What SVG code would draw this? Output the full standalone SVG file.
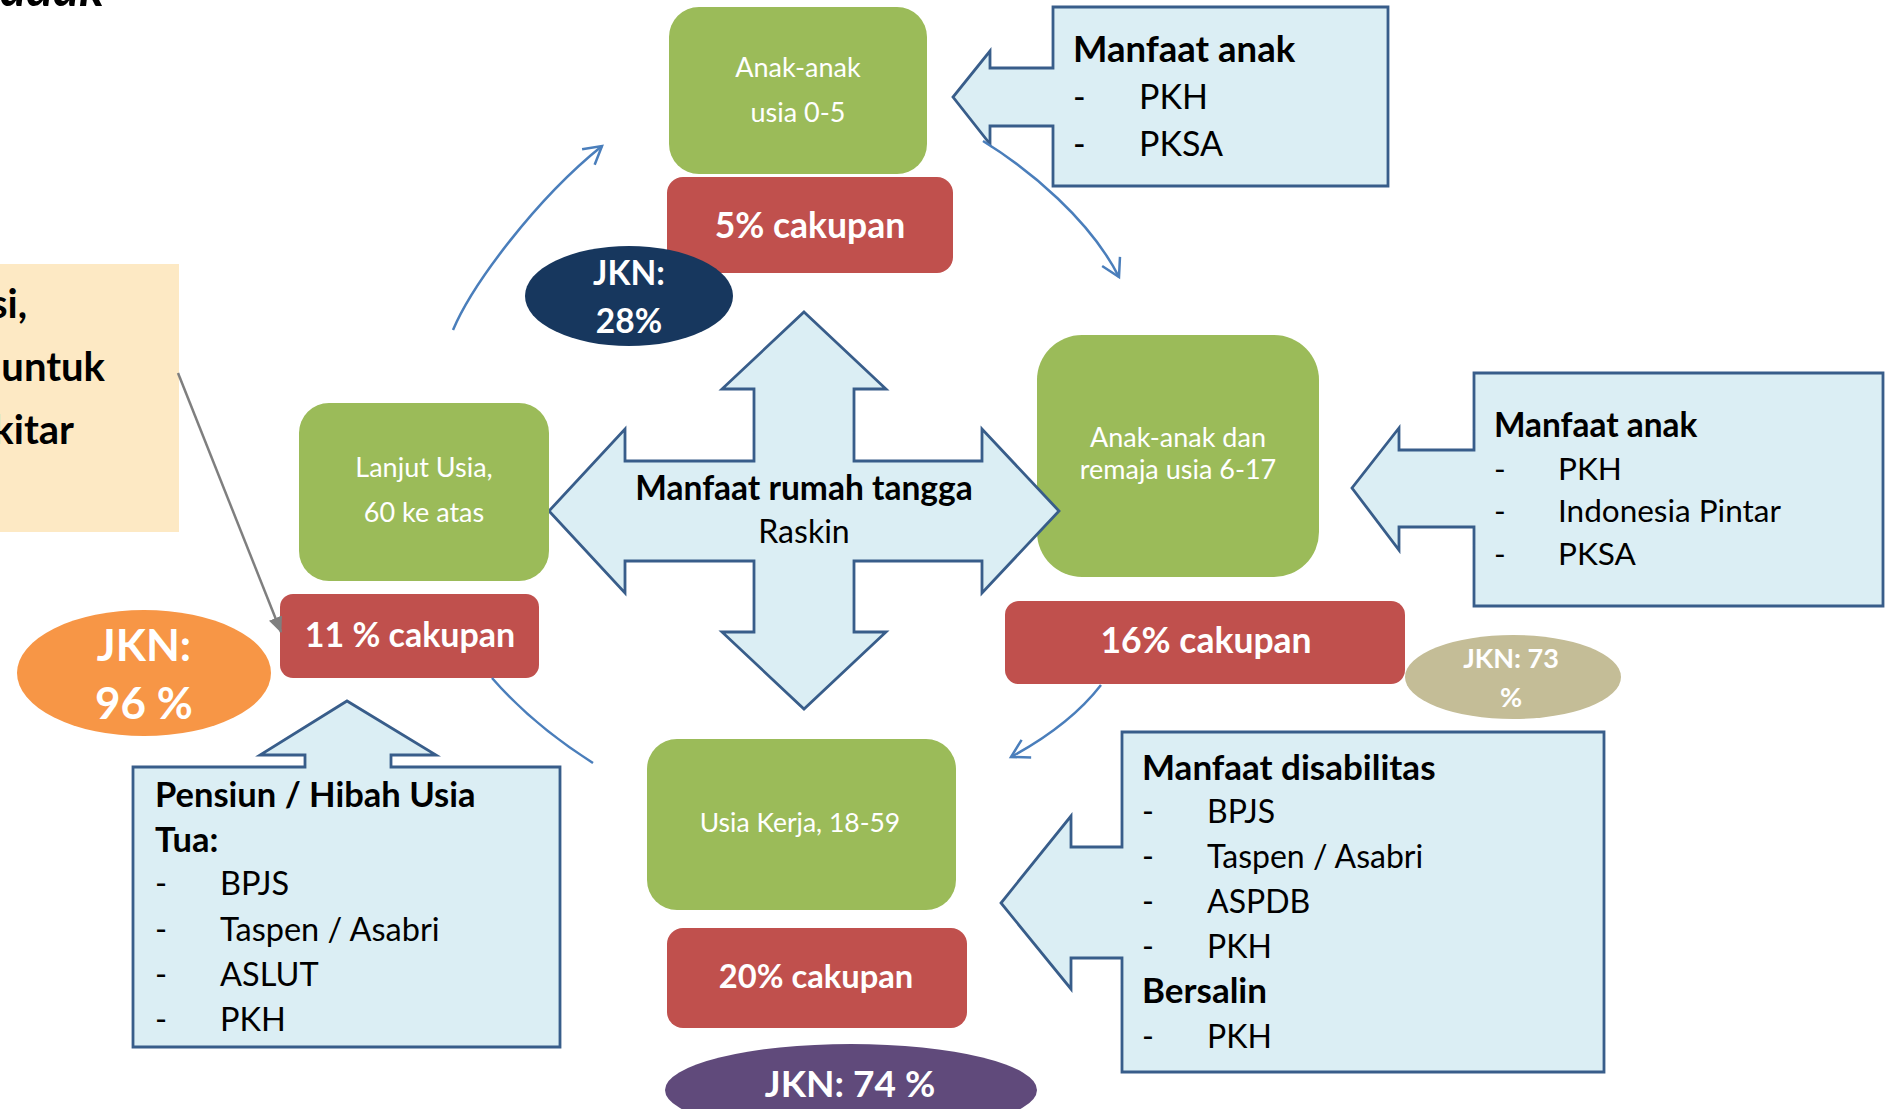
<svg xmlns="http://www.w3.org/2000/svg" width="1885" height="1109" viewBox="0 0 1885 1109">
<style>
text{font-family:Lato,"Noto Sans","Liberation Sans",sans-serif}
.w{fill:#fff}
.b{font-weight:bold}
.c{text-anchor:middle}
.grn{fill:#9BBB59}
.red{fill:#C0504D}
.call{fill:#DBEEF4;stroke:#385D8A;stroke-width:2.8;stroke-linejoin:miter}
.ct{fill:#000}
.cur{fill:none;stroke:#4A7EBB;stroke-width:2.5}
</style>
<defs>
<marker id="open" viewBox="0 0 22 22" refX="20" refY="11" markerWidth="22" markerHeight="22" markerUnits="userSpaceOnUse" orient="auto" overflow="visible">
<path d="M2.5,1 L20,11 L2.5,21" fill="none" stroke="#4A7EBB" stroke-width="2.5"/>
</marker>
<marker id="solid" viewBox="0 0 16 14" refX="15" refY="7" markerWidth="16" markerHeight="14" markerUnits="userSpaceOnUse" orient="auto">
<path d="M0,0 L16,7 L0,14 Z" fill="#7F7F7F"/>
</marker>
</defs>

<g id="title-fragment">
<text x="0" y="6" font-size="50" font-weight="bold" font-style="italic" fill="#000">adak</text>
</g>

<g id="note-left">
<rect x="-2" y="264" width="181" height="268" fill="#FDE9C4"/>
<text class="b" font-size="40" text-anchor="end" x="27" y="318">si,</text>
<text class="b" font-size="40" text-anchor="end" x="105" y="381">untuk</text>
<text class="b" font-size="40" text-anchor="end" x="74" y="444">kitar</text>
</g>

<g id="age-0-5">
<rect class="grn" x="669" y="7" width="258" height="167" rx="30"/>
<text class="c w" font-size="27" x="798" y="77">Anak-anak</text>
<text class="c w" font-size="27" x="798" y="122">usia 0-5</text>
</g>
<g id="cov-0-5">
<rect class="red" x="667" y="177" width="286" height="96" rx="16"/>
<text class="c w b" font-size="35.5" x="810" y="238">5% cakupan</text>
</g>
<g id="jkn-28">
<ellipse cx="629" cy="296" rx="104" ry="50" fill="#17375E"/>
<text class="c w b" font-size="33.5" x="629" y="285">JKN:</text>
<text class="c w b" font-size="33.5" x="629" y="333">28%</text>
</g>

<g id="benefit-child-top">
<polygon class="call" points="1053,7 1388,7 1388,186 1053,186 1053,126 990,126 990,144 953,97 990,51 990,68 1053,68"/>
<text class="ct b" font-size="36.5" x="1073" y="62">Manfaat anak</text>
<g font-size="34">
<text class="ct" x="1073" y="109">-</text><text class="ct" x="1139" y="109">PKH</text>
<text class="ct" x="1073" y="156">-</text><text class="ct" x="1139" y="156">PKSA</text>
</g>
</g>

<g id="age-6-17">
<rect class="grn" x="1037" y="335" width="282" height="242" rx="45"/>
<text class="c w" font-size="27" x="1178" y="447">Anak-anak dan</text>
<text class="c w" font-size="27" x="1178" y="479">remaja usia 6-17</text>
</g>

<g id="household-cross">
<polygon class="call" points="804,312 886,389 854,389 854,461 982,461 982,429 1059,511 982,593 982,561 854,561 854,632 886,632 804,709 722,632 754,632 754,561 625,561 625,593 549,511 625,429 625,461 754,461 754,389 722,389"/>
<text class="c b" font-size="33.5" x="804" y="500">Manfaat rumah tangga</text>
<text class="c" font-size="32" x="804" y="543">Raskin</text>
</g>

<g id="cov-6-17">
<rect class="red" x="1005" y="601" width="400" height="83" rx="14"/>
<text class="c w b" font-size="35.5" x="1206" y="653">16% cakupan</text>
</g>
<g id="jkn-73">
<ellipse cx="1513" cy="677" rx="108" ry="42" fill="#C4BD97"/>
<text class="c w b" font-size="27" x="1511" y="668">JKN: 73</text>
<text class="c w b" font-size="27" x="1511" y="707">%</text>
</g>

<g id="benefit-child-right">
<polygon class="call" points="1474,373 1883,373 1883,606 1474,606 1474,527 1399,527 1399,550 1352,488 1399,428 1399,450 1474,450"/>
<text class="ct b" font-size="33.4" x="1494" y="437">Manfaat anak</text>
<g font-size="31.5">
<text class="ct" x="1494" y="480">-</text><text class="ct" x="1558" y="480">PKH</text>
<text class="ct" x="1494" y="522">-</text><text class="ct" x="1558" y="522">Indonesia Pintar</text>
<text class="ct" x="1494" y="565">-</text><text class="ct" x="1558" y="565">PKSA</text>
</g>
</g>

<g id="age-60">
<rect class="grn" x="299" y="403" width="250" height="178" rx="30"/>
<text class="c w" font-size="27" x="424" y="477">Lanjut Usia,</text>
<text class="c w" font-size="27" x="424" y="522">60 ke atas</text>
</g>
<g id="cov-60">
<rect class="red" x="280" y="594" width="259" height="84" rx="13"/>
<text class="c w b" font-size="34" x="410" y="647">11 % cakupan</text>
</g>
<g id="jkn-96">
<ellipse cx="144" cy="673" rx="127" ry="63" fill="#F79646"/>
<text class="c w b" font-size="44" x="144" y="661">JKN:</text>
<text class="c w b" font-size="44" x="144" y="719">96 %</text>
</g>

<g id="benefit-pension">
<polygon class="call" points="133,767 305,767 305,755 260,755 347,701 436,755 391,755 391,767 560,767 560,1047 133,1047"/>
<text class="ct b" font-size="34.5" x="155" y="807">Pensiun / Hibah Usia</text>
<text class="ct b" font-size="34.5" x="155" y="852">Tua:</text>
<g font-size="32.5">
<text class="ct" x="155" y="895">-</text><text class="ct" x="220" y="895">BPJS</text>
<text class="ct" x="155" y="941">-</text><text class="ct" x="220" y="941">Taspen / Asabri</text>
<text class="ct" x="155" y="986">-</text><text class="ct" x="220" y="986">ASLUT</text>
<text class="ct" x="155" y="1031">-</text><text class="ct" x="220" y="1031">PKH</text>
</g>
</g>

<g id="age-18-59">
<rect class="grn" x="647" y="739" width="309" height="171" rx="30"/>
<text class="c w" font-size="26.5" x="800" y="832">Usia Kerja, 18-59</text>
</g>
<g id="cov-18-59">
<rect class="red" x="667" y="928" width="300" height="100" rx="16"/>
<text class="c w b" font-size="32.7" x="816" y="988">20% cakupan</text>
</g>
<g id="jkn-74">
<ellipse cx="851" cy="1090" rx="186" ry="46" fill="#604A7B"/>
<text class="c w b" font-size="37" x="850" y="1097">JKN: 74 %</text>
</g>

<g id="benefit-disability">
<polygon class="call" points="1122,732 1604,732 1604,1072 1122,1072 1122,958 1071,958 1071,989 1001,903 1071,816 1071,847 1122,847"/>
<text class="ct b" font-size="35" x="1142" y="780">Manfaat disabilitas</text>
<g font-size="32">
<text class="ct" x="1142" y="823">-</text><text class="ct" x="1207" y="823">BPJS</text>
<text class="ct" x="1142" y="868">-</text><text class="ct" x="1207" y="868">Taspen / Asabri</text>
<text class="ct" x="1142" y="913">-</text><text class="ct" x="1207" y="913">ASPDB</text>
<text class="ct" x="1142" y="958">-</text><text class="ct" x="1207" y="958">PKH</text>
</g>
<text class="ct b" font-size="35" x="1142" y="1003">Bersalin</text>
<text class="ct" font-size="32" x="1142" y="1048">-</text><text class="ct" font-size="32" x="1207" y="1048">PKH</text>
</g>

<g id="connectors">
<path class="cur" d="M453,330 C472,285 535,200 602,146" marker-end="url(#open)"/>
<path class="cur" d="M983,141 C1030,170 1090,220 1119,277" marker-end="url(#open)"/>
<path class="cur" d="M1101,685 Q1070,725 1011,757" marker-end="url(#open)"/>
<path class="cur" d="M492,678 Q533,725 593,763"/>
<path d="M178,373 L281,632" fill="none" stroke="#7F7F7F" stroke-width="2.5" marker-end="url(#solid)"/>
</g>
</svg>
